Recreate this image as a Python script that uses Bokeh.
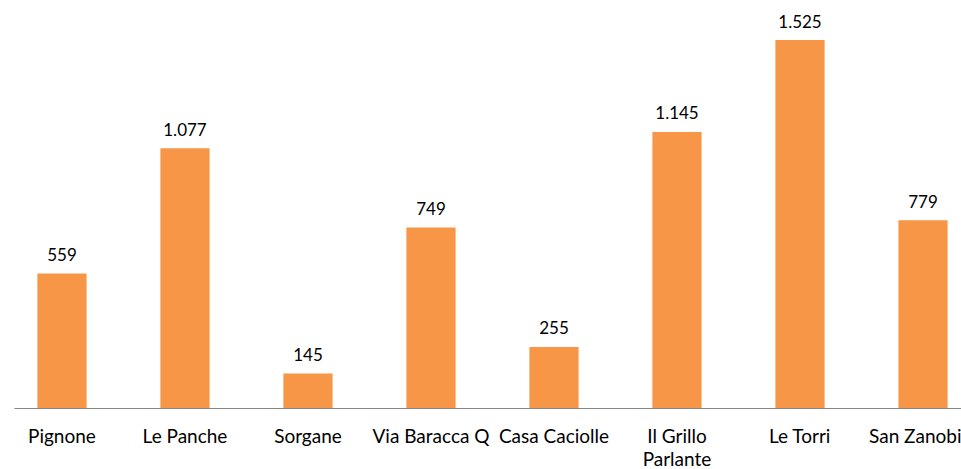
from bokeh.plotting import figure
from bokeh.models import ColumnDataSource, Range1d, FixedTicker
from bokeh.core.properties import value
from bokeh.embed import file_html
from bokeh.resources import INLINE

categories = ["Pignone", "Le Panche", "Sorgane", "Via Baracca Q", "Casa Caciolle",
              "Il Grillo\nParlante", "Le Torri", "San Zanobi"]
values = [559, 1077, 145, 749, 255, 1145, 1525, 779]

def fmt(v):
    return f"{v:,}".replace(",", ".")

xs = list(range(len(categories)))
labels = [fmt(v) for v in values]
src = ColumnDataSource(dict(x=xs, top=values, label=labels))

FONT = "Lato"

p = figure(frame_width=947, frame_height=408, output_backend="svg", toolbar_location=None,
           x_range=Range1d(-0.386, 7.313), y_range=Range1d(0, 1689))
p.min_border_left = 14
p.min_border_right = 0
p.min_border_top = 0
p.min_border_bottom = 0
p.outline_line_color = None
p.background_fill_color = "white"
p.grid.visible = False
p.yaxis.visible = False

p.vbar(x="x", top="top", width=0.4, bottom=0, source=src,
       fill_color="#F79646", line_color=None)

p.text(x="x", y="top", text="label", source=src, text_align="center",
       text_baseline="alphabetic", y_offset=-19, text_font=value(FONT),
       text_font_size="17px", text_color="#000000")

ax = p.xaxis[0]
ax.ticker = FixedTicker(ticks=xs)
ax.major_label_overrides = {i: c for i, c in enumerate(categories)}
ax.major_tick_line_color = None
ax.minor_tick_line_color = None
ax.major_tick_out = 0
ax.major_tick_in = 0
ax.axis_line_color = "#868686"
ax.axis_line_width = 1
ax.major_label_standoff = 15
ax.major_label_text_font = FONT
ax.major_label_text_font_size = "19px"
ax.major_label_text_line_height = 1.0
ax.major_label_text_color = "#000000"

open("out.html", "w").write(file_html(p, INLINE))
